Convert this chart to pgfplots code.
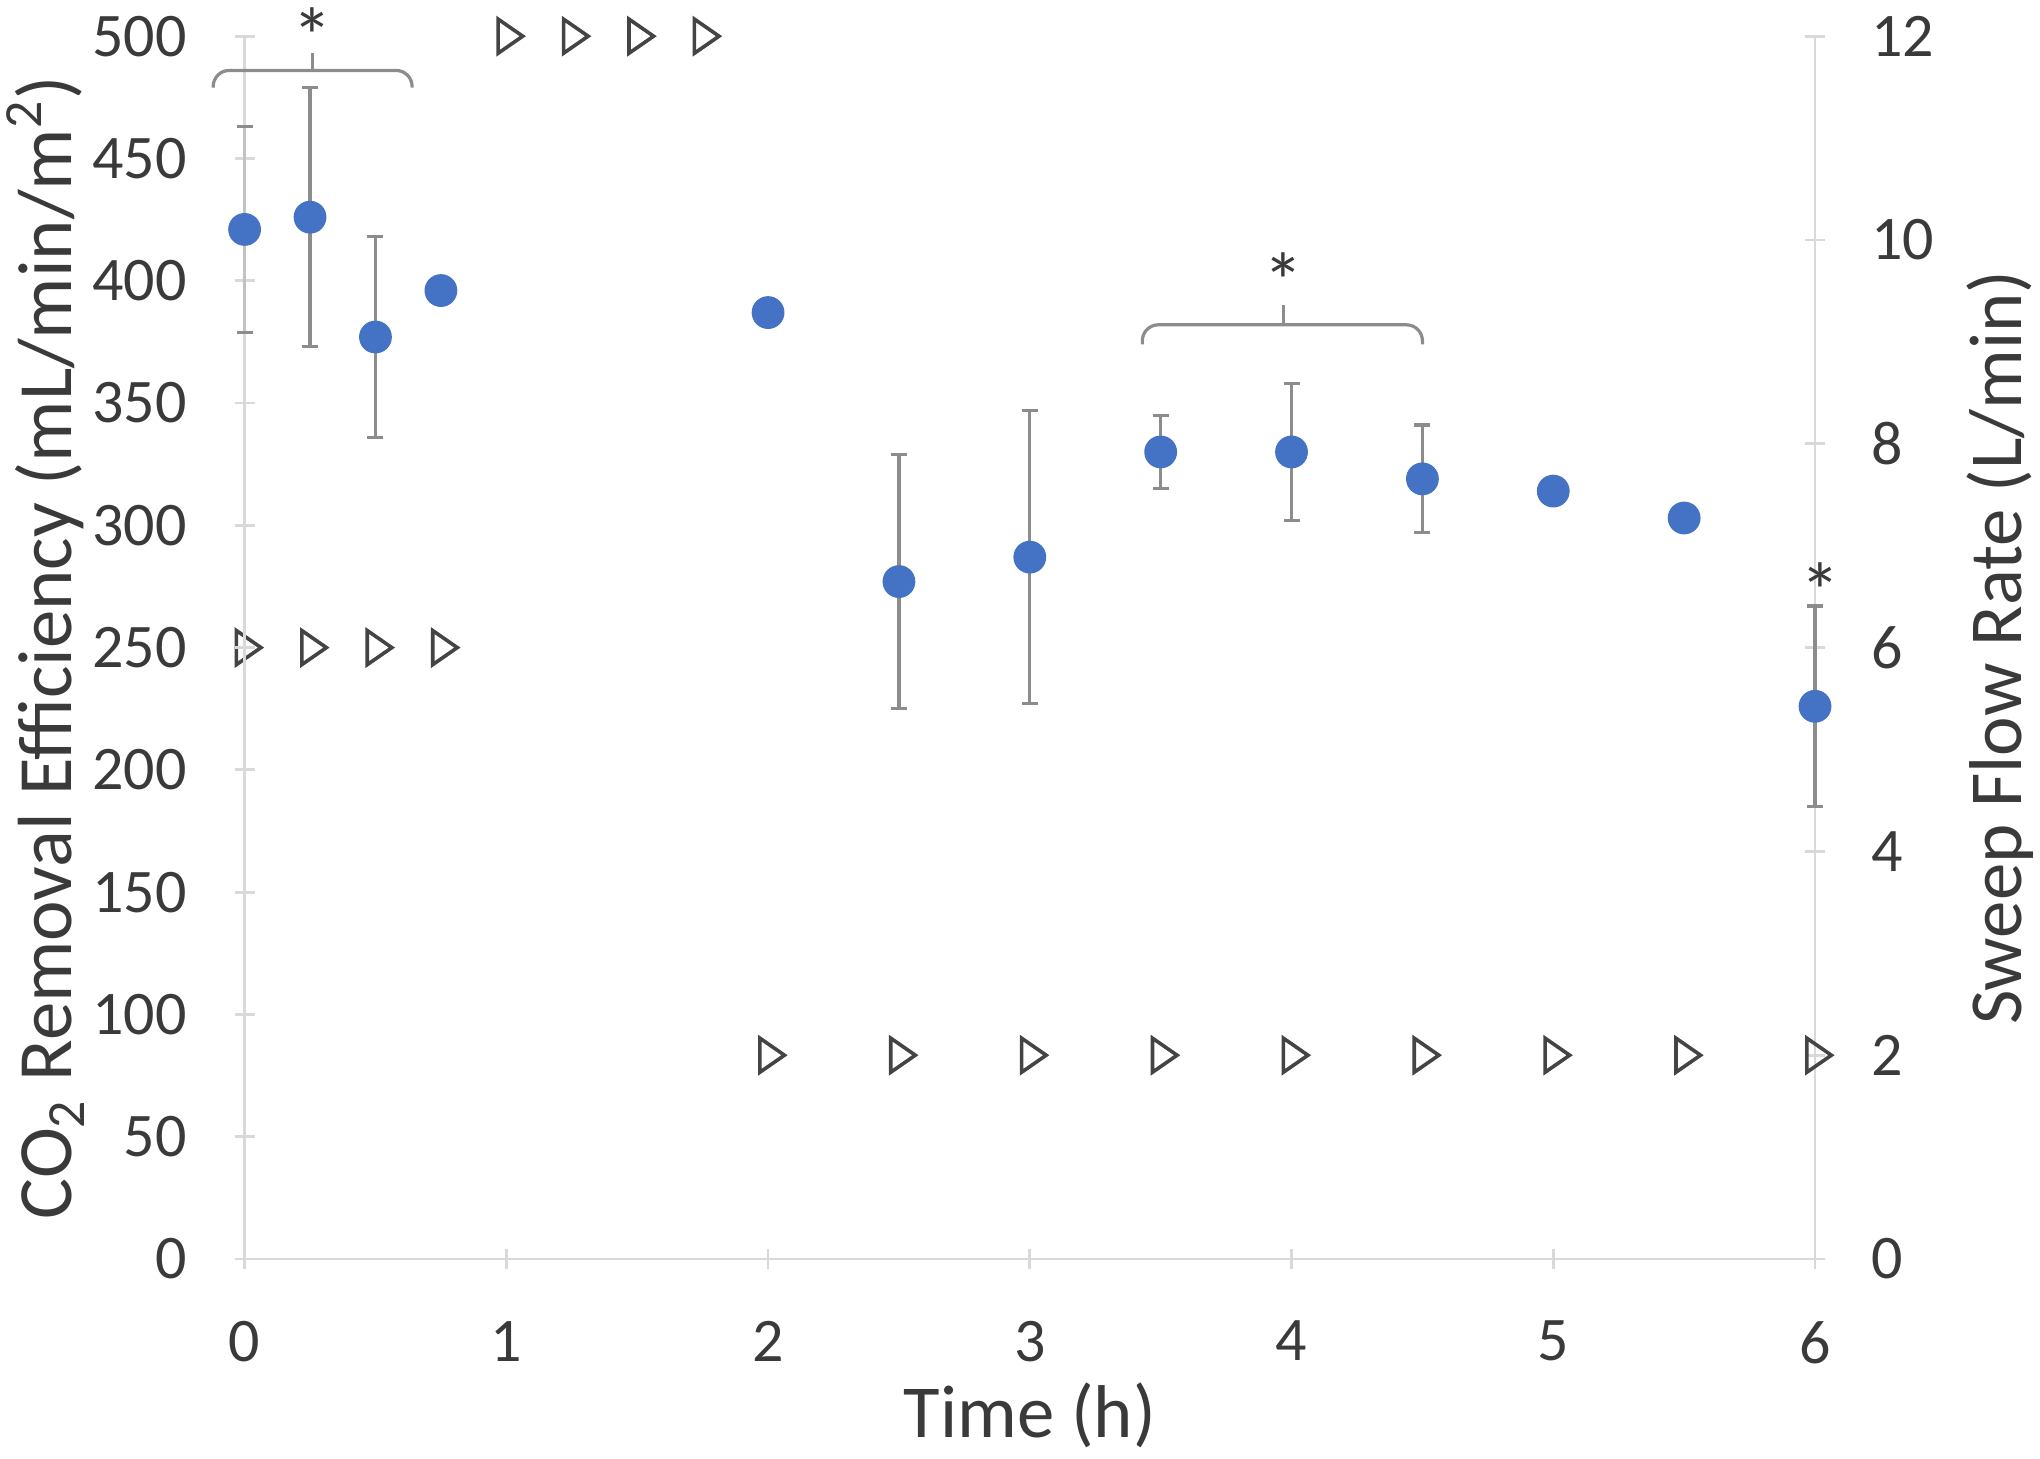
\documentclass[border=0pt]{standalone}
\usepackage{fontspec}
\setmainfont{Carlito}
\usepackage{pgfplots}
\pgfplotsset{compat=1.18}
\definecolor{dotblue}{HTML}{4472C4}
\definecolor{axgray}{HTML}{D9D9D9}
\definecolor{errgray}{HTML}{8C8C8C}
\definecolor{txtgray}{HTML}{3A3A3A}
\definecolor{trigray}{HTML}{444444}

\pgfplotsset{
  base/.style={
    scale only axis, width=392.6pt, height=305.7pt,
    xmin=0, xmax=6, clip=false,
    tick style={axgray, line width=0.7pt},
    tick align=outside, major tick length=5pt,
    ticklabel style={font=\fontsize{15.5}{18}\selectfont, text=txtgray},
    /pgf/number format/assume math mode=true,
  },
  nolines/.style={
    axis line style={-, axgray, line width=0.7pt},
    every outer x axis line/.append style={-},
    every outer y axis line/.append style={-},
    every inner x axis line/.append style={-},
    every inner y axis line/.append style={-},
  },
}

\begin{document}
\begin{tikzpicture}
\useasboundingbox (-61.15pt,-49.75pt) rectangle (448.85pt,314.75pt);

% sweep flow rate (right axis)
\begin{axis}[base,
  axis y line=right, axis x line=none, nolines,
  ymin=0, ymax=12, ytick={0,2,...,12},
  yticklabel style={xshift=8pt},
  ylabel={Sweep Flow Rate (L/min)},
  ylabel style={at={(axis description cs:1.1177,0.5)}, anchor=center,
    rotate=0, font=\fontsize{18.7}{22}\selectfont, text=txtgray},
]
\addplot[only marks, mark=triangle, mark size=4.1pt,
  mark options={rotate=-90, xscale=1.2, draw=trigray, line width=0.9pt, fill=white}]
  coordinates {(0,6) (0.25,6) (0.5,6) (0.75,6)
               (1,12) (1.25,12) (1.5,12) (1.75,12)
               (2,2) (2.5,2) (3,2) (3.5,2) (4,2) (4.5,2) (5,2) (5.5,2) (6,2)};
\end{axis}

% CO2 removal efficiency (left axis)
\begin{axis}[base,
  axis x line=bottom, axis y line=left, nolines,
  ymin=0, ymax=500, ytick={0,50,...,500},
  xtick={0,1,...,6},
  yticklabel style={xshift=-8.5pt},
  xticklabel style={yshift=-9.5pt},
  ylabel={CO\textsubscript{2} Removal Efficiency (mL/min/m\textsuperscript{2})},
  ylabel style={at={(axis description cs:-0.1268,0.5)}, anchor=center,
    font=\fontsize{19.2}{22}\selectfont, text=txtgray},
  xlabel={Time (h)},
  xlabel style={at={(axis description cs:0.5,-0.1276)}, anchor=center,
    font=\fontsize{18.7}{22}\selectfont, text=txtgray},
]
\addplot[only marks, mark=*, mark size=3.9pt, color=dotblue,
  error bars/.cd, y dir=both, y explicit,
  error bar style={color=axgray!70!errgray, line width=0.8pt},
  error mark options={rotate=90, mark size=2pt, color=errgray, line width=0.8pt}]
  table[x=t, y=v, y error=e] {
t v e
0 421 42
};
\addplot[only marks, mark=*, mark size=3.9pt, color=dotblue,
  error bars/.cd, y dir=both, y explicit,
  error bar style={color=errgray, line width=0.8pt},
  error mark options={rotate=90, mark size=2pt, color=errgray, line width=0.8pt}]
  table[x=t, y=v, y error=e] {
t    v   e
0.25 426 53
0.5  377 41
0.75 396 0
2    387 0
2.5  277 52
3    287 60
3.5  330 15
4    330 28
4.5  319 22
5    314 0
5.5  303 0
6    226 41
};
% significance brackets
\draw[errgray, line width=0.8pt, rounded corners=4pt]
  (axis cs:-0.12,479) -- (axis cs:-0.12,486) -- (axis cs:0.64,486) -- (axis cs:0.64,479);
\draw[errgray, line width=0.8pt] (axis cs:0.26,486) -- (axis cs:0.26,493);
\draw[errgray, line width=0.8pt, rounded corners=4pt]
  (axis cs:3.43,374) -- (axis cs:3.43,382) -- (axis cs:4.50,382) -- (axis cs:4.50,374);
\draw[errgray, line width=0.8pt] (axis cs:3.97,382) -- (axis cs:3.97,390);
\node[anchor=north, inner sep=0pt, text=txtgray, font=\fontsize{20}{24}\selectfont]
  at (axis cs:0.26,512) {*};
\node[anchor=north, inner sep=0pt, text=txtgray, font=\fontsize{20}{24}\selectfont]
  at (axis cs:3.97,412) {*};
\node[anchor=north, inner sep=0pt, text=txtgray, font=\fontsize{20}{24}\selectfont]
  at (axis cs:6.02,285) {*};
\end{axis}
\end{tikzpicture}
\end{document}
